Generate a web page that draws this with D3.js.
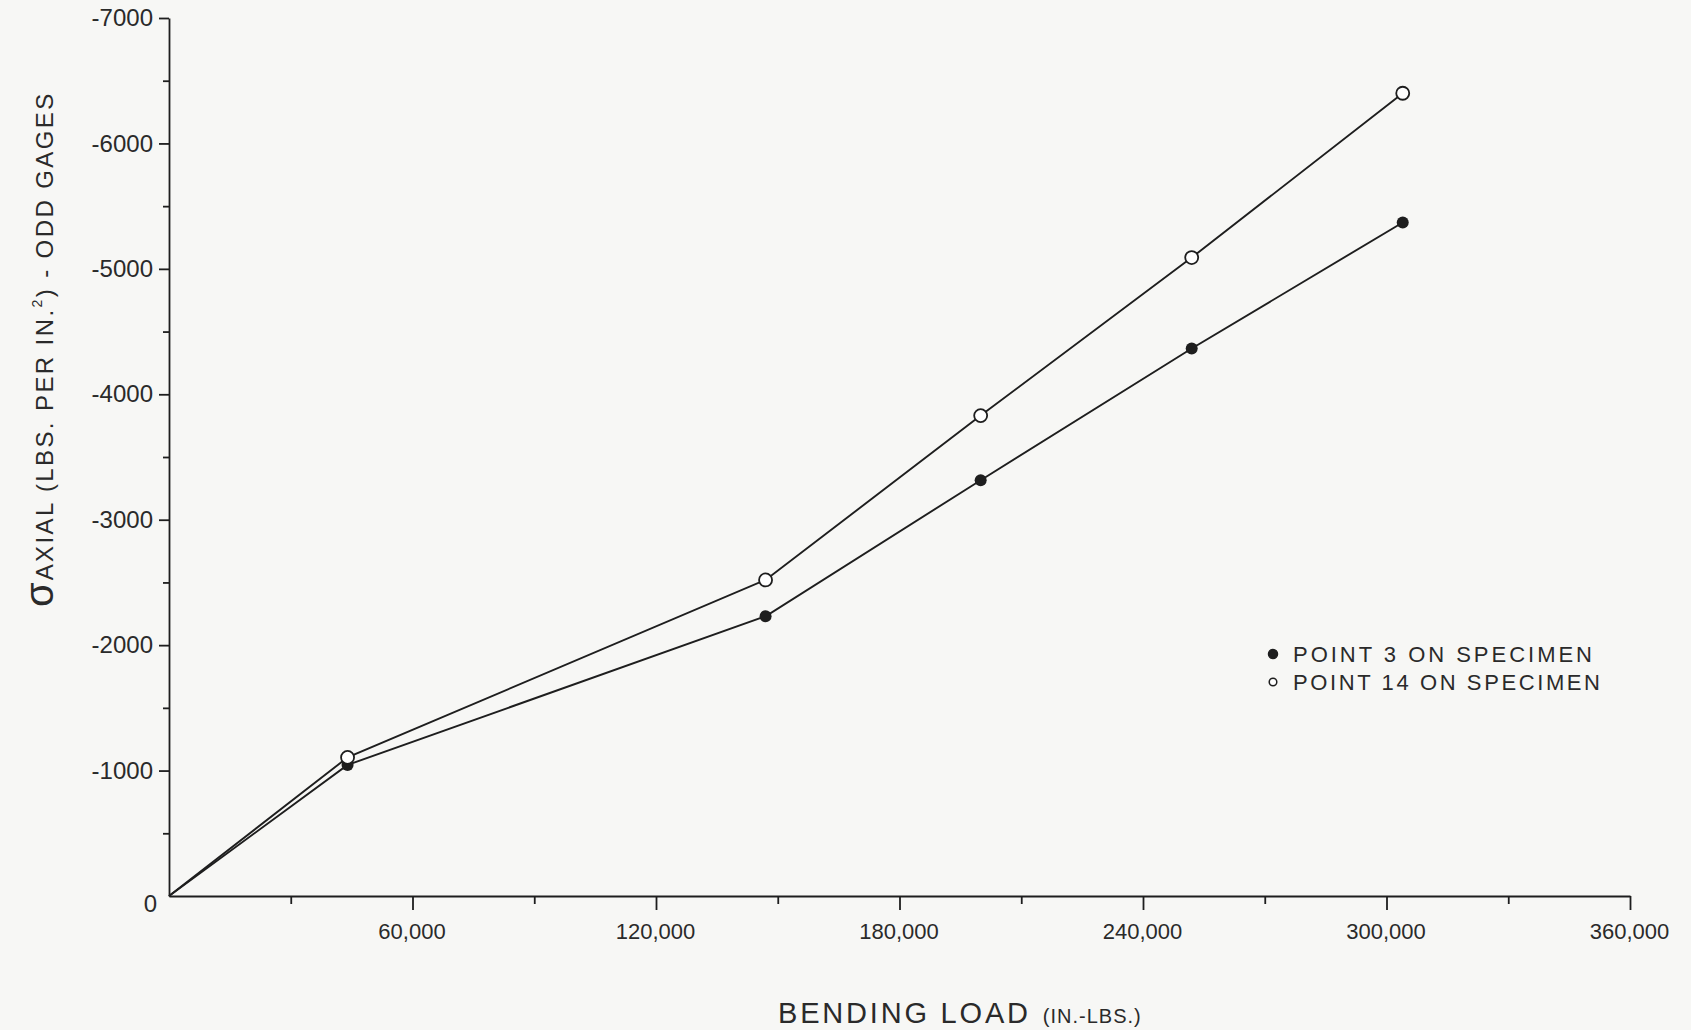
<!DOCTYPE html>
<html>
<head>
<meta charset="utf-8">
<script src="https://cdn.jsdelivr.net/npm/d3@7"></script>
<style>
  body { margin: 0; background: #f7f7f5; }
  svg text { font-family: "Liberation Sans", Arial, sans-serif; fill: #2a2a2a; }
</style>
</head>
<body>
<div id="chart"></div>
<script>
// bending load (in.-lbs.) at each reading
var loads = [0, 44000, 147000, 200000, 252000, 304000];
// sigma axial, odd gages
var point3 = [0, -1045, -2230, -3315, -4365, -5370];
var point14 = [0, -1105, -2520, -3830, -5090, -6400];

var xTicks = [60000, 120000, 180000, 240000, 300000, 360000];
var xMinorTicks = [30000, 90000, 150000, 210000, 270000, 330000];
var yTicks = [0, -1000, -2000, -3000, -4000, -5000, -6000, -7000];
var yMinorTicks = [-500, -1500, -2500, -3500, -4500, -5500, -6500];
var legendLabels = ['POINT 3 ON SPECIMEN', 'POINT 14 ON SPECIMEN'];

var W = 1691, H = 1030;
var margin = { top: 18, right: 61, bottom: 134, left: 169 };
var width = W - margin.left - margin.right;
var height = H - margin.top - margin.bottom;
var ink = '#1e1e1e';

var svg = d3.select('#chart')
  .append('svg')
    .attr('width', W)
    .attr('height', H);

var g = svg.append('g')
  .attr('transform', `translate(${margin.left}, ${margin.top})`);

var x = d3.scaleLinear().domain([0, 360000]).range([0, width]);
var y = d3.scaleLinear().domain([0, -7000]).range([height, 0]);

// x axis
var xAxis = g.append('g')
  .attr('transform', `translate(0, ${height})`)
  .call(d3.axisBottom(x).tickValues(xTicks).tickFormat(d3.format(',')).tickSize(14).tickSizeOuter(0));
xAxis.append('g')
  .call(d3.axisBottom(x).tickValues(xMinorTicks).tickFormat('').tickSize(8).tickSizeOuter(0))
  .select('.domain').remove();
xAxis.selectAll('.tick text')
  .attr('y', 27)
  .attr('dx', -1)
  .style('font-size', '22px');

// y axis
var yAxis = g.append('g')
  .call(d3.axisLeft(y).tickValues(yTicks).tickFormat(d => String(d)).tickSize(10).tickSizeOuter(0));
yAxis.append('g')
  .call(d3.axisLeft(y).tickValues(yMinorTicks).tickFormat('').tickSize(6).tickSizeOuter(0))
  .select('.domain').remove();
yAxis.selectAll('.tick text')
  .attr('x', -16)
  .style('font-size', '24px');
yAxis.selectAll('.tick').filter(d => d === 0).select('line').remove();
yAxis.selectAll('.tick').filter(d => d === 0).select('text')
  .attr('x', -12)
  .attr('dy', '0.65em');

g.selectAll('.domain, .tick line')
  .attr('stroke', ink)
  .attr('stroke-width', 1.8);

// lines
var line = d3.line()
  .x(d => x(d[0]))
  .y(d => y(d[1]));

var series = [point3, point14].map(vals => loads.map((l, i) => [l, vals[i]]));

g.selectAll('.series')
  .data(series)
  .enter()
  .append('path')
    .attr('class', 'series')
    .attr('fill', 'none')
    .attr('stroke', ink)
    .attr('stroke-width', 1.9)
    .attr('d', line);

// markers (not at origin)
g.selectAll('.dot3')
  .data(series[0].slice(1))
  .enter()
  .append('circle')
    .attr('cx', d => x(d[0]))
    .attr('cy', d => y(d[1]))
    .attr('r', 6)
    .attr('fill', ink);

g.selectAll('.dot14')
  .data(series[1].slice(1))
  .enter()
  .append('circle')
    .attr('cx', d => x(d[0]))
    .attr('cy', d => y(d[1]))
    .attr('r', 6.5)
    .attr('fill', '#ffffff')
    .attr('stroke', ink)
    .attr('stroke-width', 1.8);

// legend
var legend = svg.append('g').attr('transform', 'translate(1273, 654)');
legendLabels.forEach((lbl, i) => {
  var row = legend.append('g').attr('transform', `translate(0, ${i * 28})`);
  row.append('circle')
    .attr('r', i === 0 ? 4.5 : 3.8)
    .attr('fill', i === 0 ? ink : '#ffffff')
    .attr('stroke', ink)
    .attr('stroke-width', 1.5);
  row.append('text')
    .attr('x', 20)
    .attr('dy', '0.36em')
    .attr('textLength', i === 0 ? 299 : 307)
    .attr('lengthAdjust', 'spacing')
    .style('font-size', '22px')
    .text(lbl);
});

// x title
var xt = svg.append('text')
  .attr('x', 778)
  .attr('y', 1023)
  .style('font-size', '29px');
xt.append('tspan').attr('textLength', 250).attr('lengthAdjust', 'spacing').text('BENDING LOAD');
xt.append('tspan').attr('dx', 12).style('font-size', '20px').style('letter-spacing', '1px').text('(IN.-LBS.)');

// y title
var yt = svg.append('text')
  .attr('transform', 'translate(53, 607) rotate(-90)')
  .style('font-size', '24px')
  .style('letter-spacing', '2.4px');
yt.append('tspan').style('font-size', '40px').style('letter-spacing', '0px').text('σ');
yt.append('tspan').attr('dx', 2).text('AXIAL (LBS. PER IN.');
yt.append('tspan').attr('dy', -11).style('font-size', '14px').text('2');
yt.append('tspan').attr('dy', 11).text(') - ODD GAGES');
</script>
</body>
</html>
